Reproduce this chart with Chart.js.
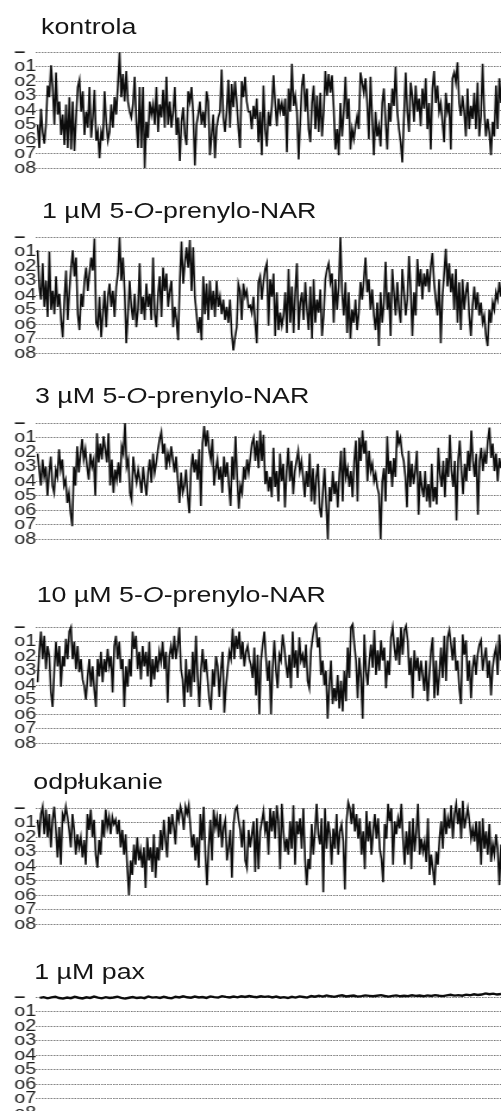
<!DOCTYPE html>
<html>
<head>
<meta charset="utf-8">
<script src="https://cdn.jsdelivr.net/npm/chart.js@4.4.1/dist/chart.umd.min.js"></script>
<style>
  html, body { margin: 0; padding: 0; background: #fff; overflow: hidden; }
  /* the whole sheet is drawn narrow and widened horizontally */
  #sheet { position: absolute; left: 0; top: 0; width: 421px; height: 1111px;
           transform: scaleX(1.19); transform-origin: 0 0; }
  .ttl { position: absolute; font: 22.5px/22.5px "Liberation Sans", Arial, sans-serif;
         color: #151515; white-space: nowrap; }
  canvas { position: absolute; left: 0; }
</style>
</head>
<body>
<div id="sheet"></div>
<script>
// Current levels: closed ("–") and open levels o1..o8
const LEVEL_LABELS = ['–', 'o1', 'o2', 'o3', 'o4', 'o5', 'o6', 'o7', 'o8'];

const TITLES = [
  'kontrola',
  '1 µM 5-<i>O</i>-prenylo-NAR',
  '3 µM 5-<i>O</i>-prenylo-NAR',
  '10 µM 5-<i>O</i>-prenylo-NAR',
  'odpłukanie',
  '1 µM pax'
];

// Recorded traces, in units of open-channel levels (0 = closed)
const kontrola = [
  5.0, 6.6, 3.9, 5.5, 6.3, 5.0, 2.3, 3.1, 0.9, 2.4, 5.0, 1.4, 4.3, 3.4, 5.7, 4.3, 6.4, 3.6, 6.6, 3.1,
  6.7, 3.4, 6.8, 4.5, 2.4, 1.9, 4.1, 2.7, 5.7, 4.1, 5.2, 2.4, 5.9, 4.5, 2.6, 6.1, 5.5, 7.3, 5.5, 6.1,
  2.7, 4.8, 6.1, 5.5, 3.6, 5.2, 3.1, 4.3, 2.2, 0.0, 3.1, 1.5, 3.4, 1.3, 3.4, 4.1, 4.5, 3.6, 1.7, 4.8,
  6.6, 2.4, 6.6, 2.4, 8.0, 4.8, 5.9, 3.4, 4.3, 3.6, 5.0, 2.4, 5.5, 3.6, 4.5, 2.6, 5.2, 1.7, 5.0, 3.4,
  5.2, 4.1, 2.4, 5.7, 4.5, 7.5, 4.8, 3.8, 5.7, 6.4, 2.7, 3.4, 2.4, 4.3, 7.8, 5.0, 4.3, 3.4, 5.0, 4.1,
  5.2, 2.7, 3.4, 7.1, 5.7, 4.3, 7.3, 5.2, 4.5, 4.1, 1.2, 4.5, 5.5, 4.1, 1.9, 5.2, 2.2, 3.8, 2.0, 3.4,
  5.2, 6.6, 2.0, 3.1, 1.7, 3.4, 4.1,
  4.1, 5.3, 3.7, 4.6, 3.2, 6.2, 4.1, 7.1, 2.3, 5.3, 6.5, 4.1, 5.1, 3.7, 1.6, 3.5, 5.1, 3.2, 4.1, 3.5,
  4.4, 3.2, 6.9, 2.5, 4.1, 0.8, 3.7, 3.0, 4.1, 7.4, 4.8, 2.3, 1.5, 4.1, 2.5, 5.3, 6.2, 3.5, 2.3, 5.3,
  3.0, 5.5, 2.8, 5.8, 4.1, 1.3, 3.0, 1.5, 2.8, 1.6, 3.9, 6.7, 5.3, 7.1, 3.5, 5.8, 4.1, 1.7, 4.6, 3.2,
  6.7, 5.3, 6.0, 5.1, 4.4, 5.3, 1.4, 2.1, 2.8, 1.8, 3.5, 6.0, 1.7, 4.6, 7.1, 4.1, 5.8, 5.1, 6.5, 3.5,
  2.5, 4.8, 6.7, 3.5, 4.8, 2.5, 3.7, 1.0, 4.1, 5.3, 6.2, 7.6, 4.4, 1.4, 4.1, 5.5, 2.1, 3.0, 4.8, 2.3,
  4.1, 3.2, 5.1, 2.5, 3.9, 1.8, 5.3, 3.5, 6.7, 2.5, 1.3, 3.5, 2.3, 4.1, 3.5, 4.8, 6.2, 2.8, 4.1, 3.5,
  6.7, 1.8, 1.4, 2.1, 0.7, 3.5, 4.4, 3.0, 4.1, 5.8, 2.5, 5.3, 3.7, 4.6, 2.8, 5.3, 2.1, 5.8, 4.4, 0.8,
  4.1, 5.8, 4.6, 5.5, 7.1, 4.8, 5.8, 2.3, 5.3, 1.8, 3.5
];

const nar1 = [
  0.9, 3.4, 4.3, 1.8, 4.8, 3.0, 5.5, 1.0, 5.0, 3.7, 5.3, 2.7, 4.8, 3.9, 5.7, 6.9, 4.3, 2.3, 5.7, 3.7,
  2.1, 0.9, 2.7, 1.4, 5.3, 6.4, 3.9, 4.8, 3.0, 2.1, 3.7, 2.5, 1.4, 2.3, 0.1, 5.9, 6.2, 4.1, 6.9, 5.3,
  3.7, 6.2, 4.1, 3.2, 4.8, 3.7, 5.5, 3.4, 2.5, 0.0, 3.0, 1.4, 3.7, 7.3, 5.3, 3.0, 4.8, 5.7, 3.9, 6.2,
  5.0, 1.8, 5.3, 4.1, 5.7, 3.2, 4.8, 3.9, 5.7, 1.4, 5.3, 6.2, 3.9, 2.7, 5.5, 2.1, 3.7, 2.5, 4.8, 3.7,
  3.0, 6.2, 4.8, 5.7, 7.1, 3.0, 0.3, 3.2, 1.8, 0.7, 2.1, 0.2, 3.7, 0.7, 4.1, 5.3, 6.6, 5.5, 7.1, 2.7,
  5.3, 3.2, 5.7, 3.0, 5.0, 3.7, 5.5, 3.0, 4.8, 4.1, 5.3, 4.3, 5.7, 4.8, 5.9, 4.3, 6.6, 7.8, 6.9, 6.2,
  3.2, 3.7, 5.7, 3.2, 4.1, 3.7, 4.8,
  4.7, 5.2, 4.1, 5.9, 7.3, 3.1, 2.7, 4.3, 3.1, 2.2, 1.8, 6.1, 2.9, 4.1, 2.5, 6.8, 3.8, 6.4, 5.2, 6.1,
  5.4, 3.8, 6.6, 2.2, 5.9, 3.4, 6.6, 3.8, 1.8, 6.4, 4.5, 3.8, 5.7, 3.1, 5.0, 6.4, 3.4, 7.0, 2.9, 5.9,
  4.3, 5.2, 3.6, 6.8, 5.4, 2.9, 2.2, 1.8, 3.1, 2.5, 5.9, 2.9, 5.0, 3.4, 0.0, 3.8, 5.4, 3.1, 6.6, 3.8,
  7.0, 5.0, 5.9, 4.3, 6.4, 5.2, 3.1, 4.3, 2.9, 1.4, 3.8, 2.9, 5.0, 3.6, 5.4, 6.4, 4.5, 7.5, 3.8, 5.9,
  4.5, 1.7, 5.0, 3.8, 6.8, 2.2, 3.8, 5.4, 3.1, 5.0, 5.9, 2.2, 3.8, 5.4, 4.3, 1.3, 3.6, 6.8, 3.8, 5.4,
  1.5, 3.4, 2.2, 4.3, 2.5, 3.4, 2.2, 3.8, 2.0, 1.1, 3.1, 4.3, 5.4, 2.9, 7.3, 4.1, 2.5, 0.8, 3.4, 1.8,
  3.8, 2.5, 5.0, 2.2, 5.9, 3.1, 6.4, 2.9, 5.0, 3.8, 3.1, 5.4, 6.8, 4.7, 3.4, 5.0, 3.8, 5.4, 4.5, 5.9,
  5.4, 6.8, 7.5, 5.0, 5.9, 4.5, 5.0, 3.8, 4.3, 3.1, 4.1
];

const nar3 = [
  2.1, 3.2, 4.3, 2.5, 3.7, 3.0, 5.0, 3.4, 2.3, 4.3, 4.8, 3.2, 3.7, 1.8, 3.2, 2.5, 4.3, 3.9, 5.5, 4.8,
  6.2, 7.1, 3.0, 4.3, 1.6, 3.4, 2.1, 1.1, 2.5, 1.8, 3.0, 3.9, 2.1, 3.0, 2.5, 5.0, 0.7, 2.7, 1.4, 2.5,
  0.9, 1.8, 2.7, 0.7, 4.3, 2.5, 4.8, 3.2, 3.9, 2.7, 4.1, 1.6, 2.1, 0.0, 3.0, 2.5, 4.8, 5.3, 2.3, 3.4,
  4.1, 3.2, 3.9, 4.8, 3.0, 4.1, 5.0, 3.4, 2.5, 4.1, 2.1, 3.4, 2.7, 1.8, 1.1, 0.6, 2.1, 1.4, 3.2, 2.1,
  2.7, 1.6, 2.5, 3.4, 2.3, 3.9, 5.5, 3.4, 4.8, 4.3, 3.2, 5.0, 6.2, 3.2, 2.1, 3.4, 2.5, 3.9, 1.8, 5.7,
  1.4, 0.2, 1.6, 0.5, 1.8, 2.5, 1.1, 4.3, 3.2, 2.5, 3.9, 3.0, 4.8, 2.3, 3.7, 2.7, 4.3, 5.7, 2.3, 3.9,
  0.9, 3.7, 5.9, 4.3, 4.8, 3.0, 3.9, 2.5, 3.4,
  2.4, 1.4, 1.0, 2.6, 1.2, 3.1, 0.5, 2.6, 0.8, 4.2, 3.3, 4.7, 3.7, 5.1, 1.7, 4.4, 3.3, 5.4, 2.1, 4.0,
  2.8, 5.8, 3.3, 1.7, 4.0, 2.6, 4.9, 3.3, 2.6, 1.9, 3.3, 2.6, 3.7, 5.1, 3.3, 4.4, 2.1, 5.4, 3.1, 5.6,
  3.7, 2.8, 5.8, 6.5, 4.7, 3.1, 5.6, 8.0, 4.4, 5.4, 3.3, 4.9, 4.0, 5.8, 3.5, 1.9, 5.4, 1.7, 3.7, 3.1,
  4.4, 3.3, 5.1, 2.6, 1.2, 5.4, 1.0, 2.6, 0.5, 2.1, 1.2, 4.0, 1.9, 3.3, 2.8, 4.0, 3.5, 4.4, 4.9, 8.0,
  4.0, 3.1, 5.4, 0.9, 3.5, 2.6, 4.4, 2.4, 3.7, 0.5, 1.4, 1.0, 2.1, 2.6, 3.7, 5.8, 1.9, 4.4, 2.8, 4.2,
  3.3, 1.9, 6.3, 3.3, 4.4, 5.1, 3.3, 5.4, 4.2, 5.8, 2.8, 5.4, 4.4, 5.6, 1.7, 3.5, 4.4, 2.6, 5.1, 2.4,
  3.7, 0.8, 3.3, 4.4, 2.6, 6.7, 2.6, 1.2, 3.3, 4.9, 2.8, 4.0, 1.9, 3.3, 0.5, 2.6, 3.7, 2.1, 6.3, 2.6,
  1.7, 3.3, 2.1, 2.8, 1.2, 0.3, 2.4, 1.4, 3.3, 2.1, 4.0, 2.4, 3.1
];

const nar10 = [
  3.8, 1.7, 0.3, 2.2, 0.6, 2.9, 1.3, 2.0, 4.5, 5.5, 2.9, 1.0, 2.7, 1.3, 4.1, 2.0, 2.7, 0.8, 2.2, 0.3,
  0.0, 2.2, 1.0, 2.9, 1.3, 3.1, 2.2, 3.6, 4.1, 5.0, 3.4, 2.2, 4.1, 2.7, 4.3, 5.5, 2.2, 3.4, 1.7, 3.8,
  2.2, 3.1, 1.5, 2.7, 2.0, 4.5, 1.3, 0.6, 2.2, 1.0, 2.9, 2.2, 5.5, 2.7, 4.1, 2.2, 3.4, 0.3, 1.5, 0.6,
  2.9, 1.7, 3.6, 1.3, 2.7, 1.7, 3.4, 1.0, 4.1, 2.2, 3.6, 2.0, 3.1, 1.7, 2.4, 1.0, 2.9, 1.7, 5.2, 2.0,
  1.3, 2.2, 0.6, 2.2, 1.3, 0.0, 2.9, 3.6, 5.5, 2.2, 4.5, 2.9, 4.8, 1.7, 3.8, 0.6, 3.4, 5.5, 2.9, 1.5,
  3.1, 2.2, 3.6, 5.0, 5.7, 2.9, 4.1, 2.0, 2.7, 4.8, 2.9, 1.7, 5.9, 4.1, 2.9, 1.7, 2.2, 0.1, 2.2, 0.6,
  1.5, 0.3, 2.2, 1.0, 2.7, 1.7, 1.3, 2.2,
  2.6, 3.5, 1.4, 4.7, 1.9, 6.0, 2.3, 1.2, 0.3, 2.1, 3.7, 2.3, 6.0, 2.8, 0.9, 3.0, 4.2, 1.9, 2.3, 0.5,
  1.4, 2.6, 3.5, 1.9, 4.2, 0.3, 2.8, 1.6, 3.5, 0.7, 2.3, 1.9, 2.8, 1.2, 3.7, 4.2, 1.6, 0.7, 0.0, -0.2,
  1.4, 0.7, 3.3, 2.3, 4.0, 3.0, 6.3, 4.0, 2.3, 5.3, 4.2, 5.1, 3.3, 5.6, 3.7, 5.8, 3.0, 5.1, 1.4, 3.5,
  0.0, -0.2, 1.2, 2.3, 4.9, 2.1, 3.5, 6.3, 0.5, 3.0, 4.0, 2.3, 1.2, 2.8, 0.2, 3.3, 1.6, 3.0, 0.9, 2.3,
  1.4, 4.2, 2.3, 3.3, 0.7, 0.0, 1.4, 2.3, 0.7, 2.6, 0.0, 1.9, 0.2, -0.1, 0.9, 3.3, 2.1, 4.9, 1.6, 3.0,
  2.1, 3.7, 2.3, 3.3, 4.4, 2.3, 5.1, 3.3, 1.6, 0.7, 4.9, 2.3, 4.7, 3.3, 1.4, 3.5, 0.6, 3.7, 0.7, 0.2,
  1.2, 2.3, 0.7, 3.0, 2.3, 4.2, 5.3, 0.5, 1.9, 0.9, 3.7, 2.3, 4.9, 2.8, 1.9, 3.3, 1.9, 1.2, 0.9, 3.0,
  2.1, 1.4, 3.5, 2.3, 4.7, 2.8, 1.9, 1.4, 3.3, 0.5, 2.3
];

const odplukanie = [
  0.8, 2.0, 0.4, -0.1, 1.8, 0.1, 2.0, 0.4, 2.7, 0.8, -0.1, 1.5, 3.4, 1.3, 3.9, 0.4, 0.8, -0.1, 0.6, 1.5,
  2.7, 0.4, 1.5, 3.2, 1.8, 2.7, 2.0, 3.4, 2.2, 3.9, 0.4, 1.5, 0.1, 2.0, 0.8, 3.2, 4.1, 2.2, 3.2, 0.8,
  2.0, 0.1, 1.3, 0.6, 1.8, 0.6, 1.1, 0.8, 1.8, 0.8, 2.7, 1.5, 3.2, 1.8, 4.1, 6.0, 3.6, 4.6, 2.5, 3.9,
  2.0, 3.6, 2.9, 4.1, 2.7, 5.5, 2.0, 3.6, 2.7, 4.4, 1.8, 4.8, 2.7, 3.6, 1.5, 2.9, 0.8, 2.2, 3.4, 0.6,
  1.8, 0.4, 1.3, 2.5, 0.1, 0.8, -0.1, 0.4, 1.5, -0.1, 0.4, -0.2, 1.3, 2.7, 1.8, 3.6, 2.0, 4.1, 0.4, 2.2,
  -0.1, 3.2, 5.3, 2.7, 0.8, 3.6, 0.1, 1.3, 0.6, 2.0, 0.4, 2.7, 1.3, 0.8, 3.6, 2.7, 1.5, 4.8, 1.1, 0.1,
  -0.1, 0.8, 1.5, 2.7, 0.8, 3.6, 4.1, 1.5, 2.7,
  1.8, 0.9, 4.4, 0.7, 4.2, 1.6, 0.9, 0.2, 1.6, 0.9, 3.2, 0.0, 1.6, 0.2, 2.1, -0.2, 0.9, 4.2, -0.3, 1.6,
  3.0, 2.1, 3.2, 0.9, 2.8, -0.2, 3.9, 0.9, 1.8, 0.7, 2.8, 0.0, 3.5, 5.3, 3.5, 4.2, 1.1, 3.2, 1.6, -0.3,
  1.8, 2.5, 0.7, 5.8, 0.0, 2.8, 0.9, 1.8, 3.9, 1.4, 2.8, 0.4, 3.2, 1.6, 1.1, 2.3, 5.6, 0.9, -0.4, 0.0,
  1.1, -0.3, 1.6, 0.4, 2.1, 0.7, 3.2, 1.6, 4.2, 0.2, 2.3, 0.9, 3.2, 1.6, 0.4, 2.1, 0.7, 2.8, 3.5, 5.1,
  1.1, 2.1, -0.3, 0.9, 0.0, 3.9, 0.9, 1.8, 0.7, 1.4, -0.3, 2.1, 3.9, 1.6, 3.2, 0.9, 4.2, 0.7, 3.0, 1.6,
  -0.3, 3.2, 2.1, 3.0, 2.3, 3.7, 0.7, 4.6, 3.2, 4.2, 5.3, 3.0, 3.9, 2.1, 0.9, 2.8, 0.0, 1.8, 0.7, 1.4,
  -0.2, 2.1, 0.4, -0.3, 1.1, 0.0, 2.1, -0.5, 1.4, 0.7, 0.0, 0.9, 2.1, 1.4, 2.3, 0.9, 3.0, 0.9, 3.9, 0.7,
  2.8, 1.6, 3.2, 1.1, 3.7, 2.5, 3.2, 1.8, 2.8, 5.3, 2.5
];

const pax = [
  0.05, 0.0, 0.08, 0.02, -0.03, 0.06, 0.1, 0.03, 0.07, -0.02, 0.04, 0.09, 0.01, 0.05, -0.04, 0.03,
  0.08, 0.0, 0.06, 0.02, -0.03, 0.05, 0.1, 0.04, -0.01, 0.06, 0.02, 0.07, -0.05, 0.03, 0.0, 0.05,
  -0.02, 0.04, 0.08, -0.03, 0.02, -0.06, 0.01, 0.04, -0.04, 0.02, -0.01, 0.05, -0.05, 0.0, 0.03, -0.07,
  -0.02, 0.02, -0.04, 0.01, -0.06, -0.01, -0.08, -0.03, 0.0, -0.06, -0.02, -0.05,
  0.02, -0.04, 0.04, 0.0, 0.06, -0.02, 0.03, -0.05, -0.01, 0.03, -0.08, -0.03, -0.10, -0.04, -0.12, -0.06,
  -0.02, -0.09, -0.13, -0.05, -0.08, -0.11, -0.04, -0.07, -0.12, -0.09, -0.06, -0.10, -0.14, -0.08, -0.04, -0.09,
  -0.12, -0.06, -0.10, -0.07, -0.13, -0.09, -0.11, -0.06, -0.12, -0.08, -0.14, -0.10, -0.07, -0.12, -0.16, -0.11,
  -0.14, -0.10, -0.17, -0.13, -0.20, -0.15, -0.18, -0.26, -0.20, -0.24, -0.18, -0.22
];

const SERIES = [kontrola, nar1, nar3, nar10, odplukanie, pax];

// Page layout: title box and closed-level line position of each panel (px)
const LAYOUT = [
  { titleTop: 16,  titleLeft: 34.5, closedY: 52 },
  { titleTop: 200, titleLeft: 35.3, closedY: 237 },
  { titleTop: 385, titleLeft: 29.4, closedY: 423 },
  { titleTop: 584, titleLeft: 30.8, closedY: 627.5 },
  { titleTop: 771, titleLeft: 28.0, closedY: 808 },
  { titleTop: 961, titleLeft: 28.8, closedY: 997 }
];

const Y_MIN = -0.7, Y_MAX = 8.6;
const PLOT_H = 135;
const SHEET_W = 421;
const FONT = '"Liberation Sans", Arial, sans-serif';
const LABEL_FONT = '"Liberation Sans Narrow", "Arial Narrow", "Liberation Sans", sans-serif';

const sheet = document.getElementById('sheet');

SERIES.forEach((values, p) => {
  const lay = LAYOUT[p];

  const title = document.createElement('div');
  title.className = 'ttl';
  title.style.top = lay.titleTop + 'px';
  title.style.left = lay.titleLeft + 'px';
  title.innerHTML = TITLES[p];
  sheet.appendChild(title);

  const levelPx = PLOT_H / (Y_MAX - Y_MIN);
  const canvas = document.createElement('canvas');
  canvas.width = SHEET_W;
  canvas.height = PLOT_H;
  canvas.style.width = SHEET_W + 'px';
  canvas.style.height = PLOT_H + 'px';
  canvas.style.top = Math.round(lay.closedY - (0 - Y_MIN) * levelPx) + 'px';
  sheet.appendChild(canvas);

  const isFlat = p === SERIES.length - 1;

  new Chart(canvas, {
    type: 'line',
    data: {
      datasets: [{
        data: values.map((v, i) => ({ x: i, y: v })),
        borderColor: '#0c0c0c',
        borderWidth: isFlat ? 2.4 : 1.6,
        pointRadius: 0,
        tension: 0,
        fill: false
      }]
    },
    options: {
      responsive: false,
      animation: false,
      devicePixelRatio: 1,
      layout: { padding: { left: 12.0, right: 0, top: 0, bottom: 0 } },
      plugins: { legend: { display: false }, tooltip: { enabled: false }, title: { display: false } },
      scales: {
        x: { type: 'linear', display: false, min: -1, max: values.length - 1 },
        y: {
          type: 'linear',
          reverse: true,
          min: Y_MIN,
          max: Y_MAX,
          afterBuildTicks: s => { s.ticks = LEVEL_LABELS.map((_, i) => ({ value: i })); },
          afterFit: s => { s.width = 18.2; s.paddingTop = 0; s.paddingBottom = 0; },
          ticks: {
            crossAlign: 'far',
            padding: 0,
            autoSkip: false,
            color: '#1e1e1e',
            font: ctx => ({ family: LABEL_FONT, size: 16.5, weight: ctx.index === 0 ? 'bold' : 'normal' }),
            callback: v => LEVEL_LABELS[v]
          },
          grid: { color: '#7a7a7a', lineWidth: 1, drawTicks: false },
          border: { display: false, dash: [1.5, 1] }
        }
      }
    }
  });
});
</script>
</body>
</html>
